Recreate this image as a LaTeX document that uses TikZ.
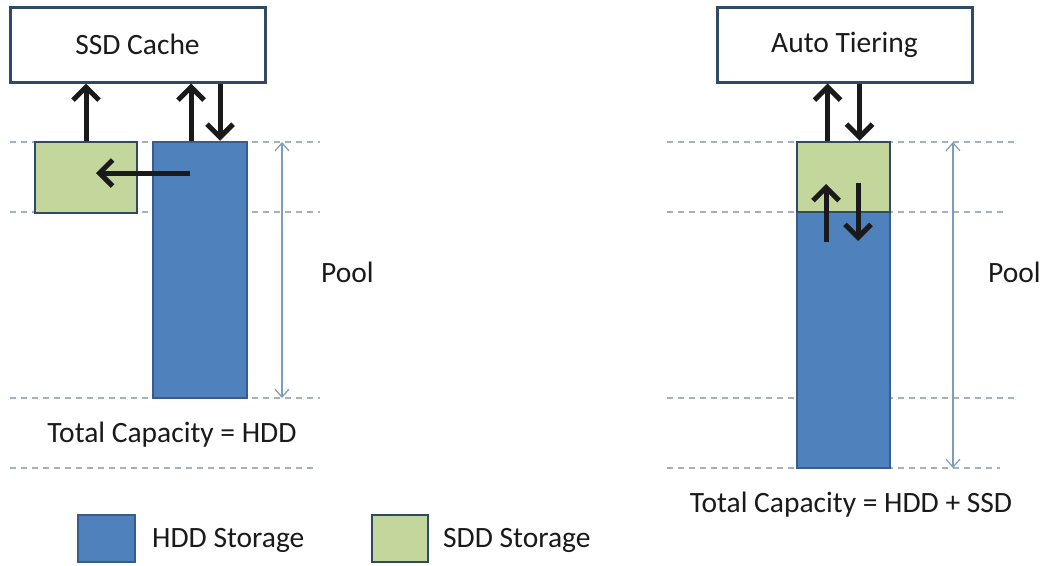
\documentclass[tikz,border=0pt]{standalone}
\usepackage{fontspec}
\setmainfont{Carlito}
\usetikzlibrary{arrows.meta,calc}
\definecolor{hddfill}{HTML}{4F81BD}
\definecolor{hddline}{HTML}{385D8A}
\definecolor{ssdfill}{HTML}{C3D69B}
\definecolor{boxline}{HTML}{2E4A66}
\definecolor{dashcol}{HTML}{A3B0BE}
\definecolor{poolcol}{HTML}{7E9BB8}
\definecolor{ink}{HTML}{1A1A1A}
\tikzset{
  x=1pt,y=-1pt,
  every node/.style={font=\fontsize{29.5}{34}\selectfont, text=ink, inner sep=0pt},
  titlebox/.style={draw=boxline, line width=3pt, fill=white, minimum width=255pt, minimum height=75pt},
  hddbox/.style={draw=hddline, line width=2.5pt, fill=hddfill},
  ssdbox/.style={draw=boxline, line width=2.5pt, fill=ssdfill},
  bigarrow/.style={draw=ink, line width=5pt, -{Straight Barb[length=13pt,width=26pt,line width=5pt]}},
  guide/.style={draw=dashcol, line width=1.5pt, dash pattern=on 6pt off 5pt},
  poolarrow/.style={draw=poolcol, line width=1.2pt, {Straight Barb[length=8pt,width=14pt]}-{Straight Barb[length=8pt,width=14pt]}}
}
\begin{document}
\begin{tikzpicture}
\useasboundingbox (0,0) rectangle (1044,565);
% guide lines
\coordinate (l1a) at (10,142); \coordinate (l1b) at (320,142);
\coordinate (l2a) at (10,212); \coordinate (l2b) at (320,212);
\coordinate (l3a) at (10,398); \coordinate (l3b) at (320,398);
\coordinate (l4a) at (10,468); \coordinate (l4b) at (318,468);
\coordinate (r1a) at (667,142); \coordinate (r1b) at (1018,142);
\coordinate (r2a) at (667,212); \coordinate (r2b) at (1005,212);
\coordinate (r3a) at (667,398); \coordinate (r3b) at (1018,398);
\coordinate (r4a) at (667,468); \coordinate (r4b) at (1000,468);
\draw[guide] (l1a) -- (l1b); \draw[guide] (l2a) -- (l2b);
\draw[guide] (l3a) -- (l3b); \draw[guide] (l4a) -- (l4b);
\draw[guide] (r1a) -- (r1b); \draw[guide] (r2a) -- (r2b);
\draw[guide] (r3a) -- (r3b); \draw[guide] (r4a) -- (r4b);

% left: SSD cache
\node[titlebox] (cache) at (137.5,44.5) {SSD Cache};
\node[ssdbox, minimum width=102pt, minimum height=71pt] (ssdl) at (86,177.5) {};
\node[hddbox, minimum width=94pt, minimum height=256pt] (hddl) at (200,270) {};
\draw[bigarrow] (ssdl.north) -- (ssdl.north |- cache.south);
\draw[bigarrow] ([xshift=-9pt]hddl.north) -- ([xshift=-9pt]hddl.north |- cache.south);
\draw[bigarrow] ([xshift=20pt]hddl.north |- cache.south) -- ([xshift=20pt]hddl.north);
\coordinate (lstart) at (190,173);
\coordinate (lend) at (96,173);
\draw[bigarrow] (lstart) -- (lend);
\coordinate (pl1) at (282,142); \coordinate (pl2) at (282,398);
\draw[poolarrow] (pl1) -- (pl2);
\node[anchor=west] (pooll) at (321,272) {Pool};
\node (totl) at (172,435) {Total Capacity = HDD};

% right: auto tiering
\node[titlebox] (tier) at (844.5,44.5) {Auto Tiering};
\node[hddbox, minimum width=93pt, minimum height=256pt] (hddr) at (843.5,340) {};
\node[ssdbox, minimum width=93pt, minimum height=70pt] (ssdr) at (843.5,177) {};
\draw[bigarrow] ([xshift=-16pt]ssdr.north) -- ([xshift=-16pt]ssdr.north |- tier.south);
\draw[bigarrow] ([xshift=16pt]ssdr.north |- tier.south) -- ([xshift=16pt]ssdr.north);
\coordinate (ru1) at (826,242); \coordinate (ru2) at (826,184);
\coordinate (rd1) at (858,183); \coordinate (rd2) at (858,241);
\draw[bigarrow] (ru1) -- (ru2);
\draw[bigarrow] (rd1) -- (rd2);
\coordinate (pr1) at (953,142); \coordinate (pr2) at (953,468);
\draw[poolarrow] (pr1) -- (pr2);
\node[anchor=west] (poolr) at (988,272) {Pool};
\node (totr) at (851,505) {Total Capacity = HDD + SSD};

% legend
\node[hddbox, minimum width=57pt, minimum height=47pt] (leghdd) at (106.5,538.5) {};
\node[anchor=west] (leghddt) at (152,540) {HDD Storage};
\node[ssdbox, minimum width=56pt, minimum height=47pt] (legssd) at (400,538.5) {};
\node[anchor=west] (legssdt) at (443,540) {SDD Storage};
\end{tikzpicture}
\end{document}
